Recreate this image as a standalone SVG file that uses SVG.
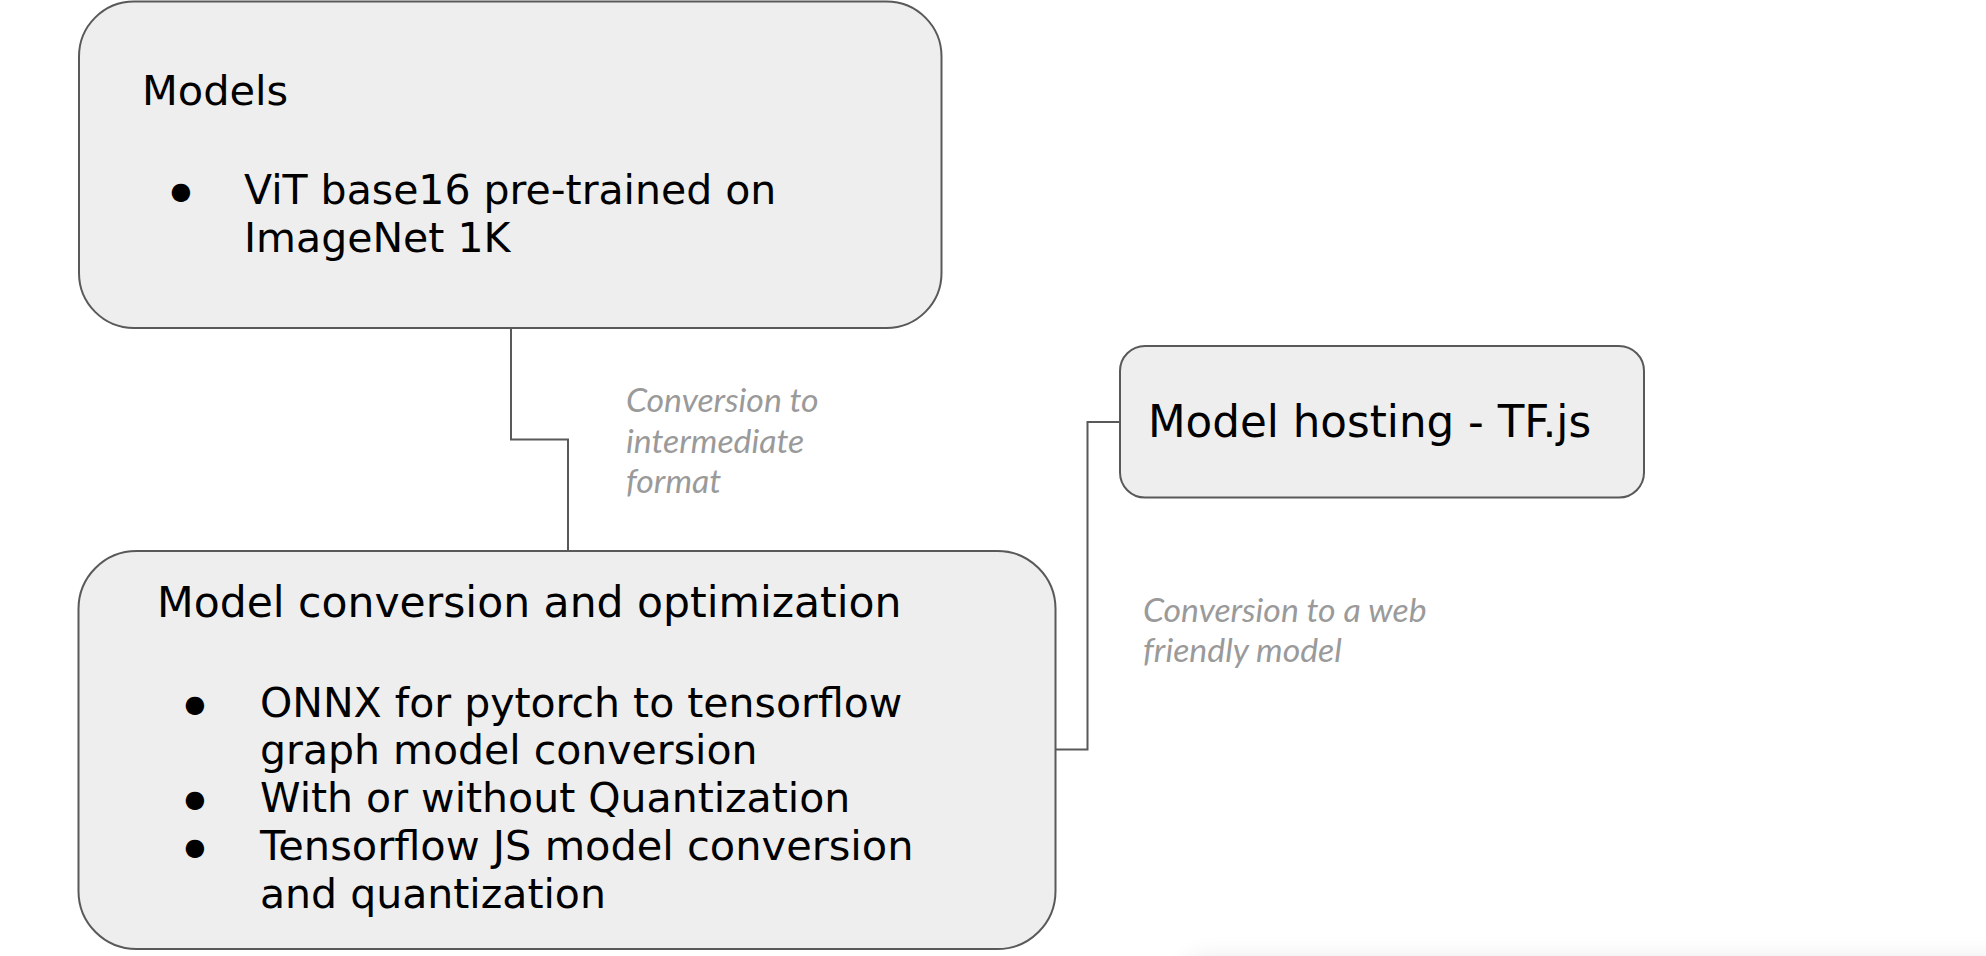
<svg xmlns="http://www.w3.org/2000/svg" width="1986" height="956" viewBox="0 0 1986 956">
  <defs>
    <filter id="blur" x="-20%" y="-200%" width="140%" height="500%">
      <feGaussianBlur stdDeviation="14"/>
    </filter>
  </defs>
  <style>
    .box { fill: #eeeeee; stroke: #595959; stroke-width: 2; }
    .t { font-family: "DejaVu Sans", Verdana, sans-serif; fill: #000000; }
    .b { font-family: "DejaVu Sans", sans-serif; fill: #000000; font-size: 24px; text-anchor: middle; }
    .lbl { font-family: Lato, "Noto Sans", sans-serif; font-style: italic; font-size: 33.8px; fill: #9a9a9a; }
    .conn { fill: none; stroke: #595959; stroke-width: 2; }
  </style>
  <rect width="1986" height="956" fill="#ffffff"/>
  <rect x="1190" y="962" width="900" height="40" fill="#000000" opacity="0.12" filter="url(#blur)"/>

  <g id="connectors">
    <polyline class="conn" points="511,328 511,439.5 568,439.5 568,551"/>
    <polyline class="conn" points="1055,749.5 1087.5,749.5 1087.5,422 1120,422"/>
  </g>

  <g id="node-models">
    <rect class="box" x="79" y="1.5" width="862.5" height="326.5" rx="55" ry="55"/>
    <text class="t" x="142" y="105" font-size="41.5">Models</text>
    <text class="b" x="181" y="199">●</text>
    <text class="t" x="244" y="204" font-size="41">ViT base16 pre-trained on</text>
    <text class="t" x="244" y="252" font-size="41">ImageNet 1K</text>
  </g>

  <g id="node-conversion">
    <rect class="box" x="78.5" y="551" width="977" height="398" rx="58" ry="58"/>
    <text class="t" x="157" y="617" font-size="42.5">Model conversion and optimization</text>
    <text class="b" x="195" y="712">●</text>
    <text class="t" x="260" y="717" font-size="41">ONNX for pytorch to tensorflow</text>
    <text class="t" x="260" y="764" font-size="41">graph model conversion</text>
    <text class="b" x="195" y="807">●</text>
    <text class="t" x="260" y="812" font-size="41">With or without Quantization</text>
    <text class="b" x="195" y="855">●</text>
    <text class="t" x="260" y="860" font-size="41.5">Tensorflow JS model conversion</text>
    <text class="t" x="260" y="908" font-size="41">and quantization</text>
  </g>

  <g id="node-hosting">
    <rect class="box" x="1120" y="346" width="524" height="151.5" rx="25" ry="25"/>
    <text class="t" x="1148" y="437" font-size="43.6">Model hosting - TF.js</text>
  </g>

  <g id="labels">
    <text class="lbl" x="626" y="412">Conversion to</text>
    <text class="lbl" x="626" y="452.5">intermediate</text>
    <text class="lbl" x="626" y="493">format</text>
    <text class="lbl" x="1143" y="621.5">Conversion to a web</text>
    <text class="lbl" x="1143" y="661.5">friendly model</text>
  </g>
</svg>
